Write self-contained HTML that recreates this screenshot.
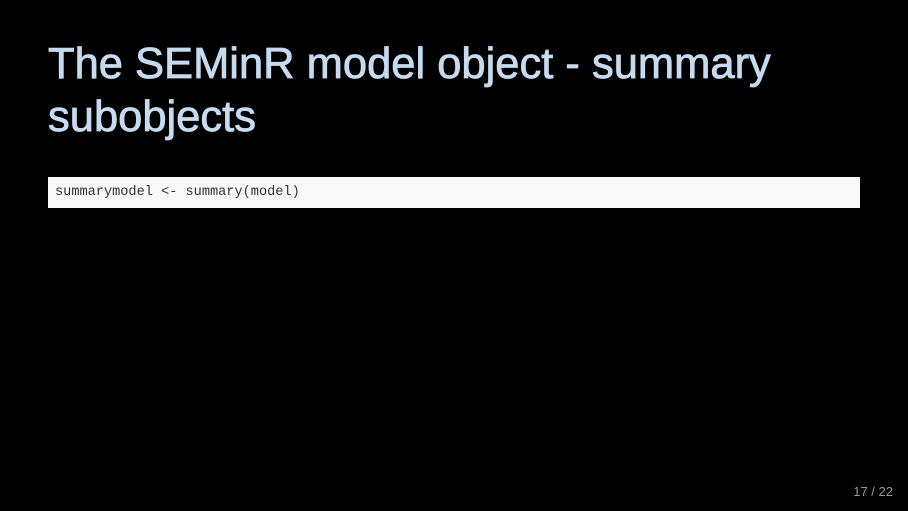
<!DOCTYPE html>
<html><head><style>
body{margin:0;width:908px;height:511px;background:#000;overflow:hidden;position:relative;font-family:"Liberation Sans",sans-serif}
h1{position:absolute;left:48px;top:38px;margin:0;font-weight:normal;font-size:43.5px;line-height:53px;color:#c6dbef;-webkit-text-stroke:0.8px #c6dbef;width:820px}
.code{position:absolute;left:48px;top:177px;width:812px;height:31px;background:#f8f8f8;box-sizing:border-box;padding-left:7px;font-family:"Liberation Mono",monospace;font-size:13.6px;line-height:31px;color:#333}
.pg{position:absolute;right:15px;top:484px;font-size:13px;color:#999}
</style></head><body>
<h1>The SEMinR model object - summary subobjects</h1>
<div class="code">summarymodel &lt;- summary(model)</div>
<div class="pg">17 / 22</div>
</body></html>
